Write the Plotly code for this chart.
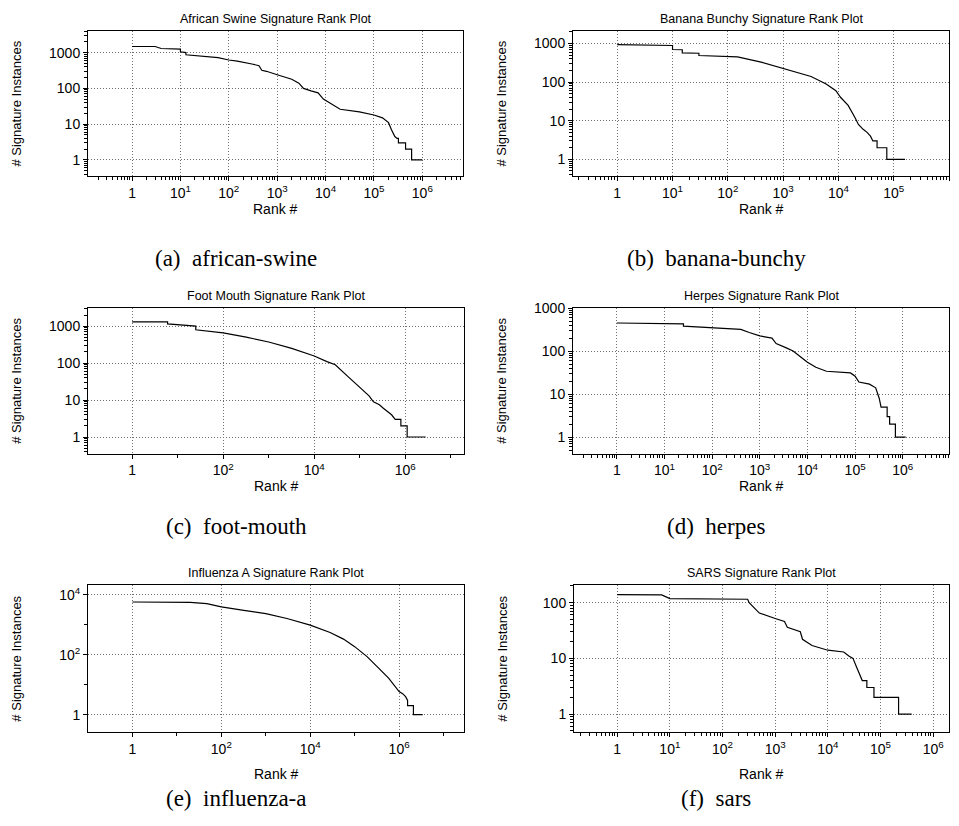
import plotly.graph_objects as go

# ---------------- data (rank, signature instances) ----------------
swine_rank = [1, 3, 4, 8, 10, 10, 13, 13, 30, 60, 100, 150, 300, 420, 480, 600, 1000, 2000, 2800,
              3500, 5000, 7000, 9000, 12000, 20000, 50000, 100000, 150000, 200000, 230000,
              270000, 300000, 320000, 320000, 450000, 450000, 600000, 600000, 1000000]
swine_count = [1480, 1480, 1300, 1250, 1250, 1050, 1000, 870, 800, 720, 620, 580, 480, 430, 320, 300,
               240, 180, 140, 100, 85, 75, 50, 40, 26, 22, 18, 15, 11, 7,
               4.5, 4, 4, 3, 3, 2, 2, 1, 1]

banana_rank = [1, 10, 10, 15, 15, 30, 30, 150, 400, 1000, 3200, 6000, 9000, 11000, 15000, 20000,
               23000, 28000, 33000, 38000, 42000, 42000, 50000, 50000, 75000, 75000, 160000]
banana_count = [940, 890, 700, 690, 570, 560, 490, 450, 330, 230, 140, 90, 60, 40, 25, 12,
                8, 6, 5, 4, 3.2, 3, 3, 2, 2, 1, 1]

foot_rank = [1, 6, 6, 20, 25, 25, 60, 100, 320, 1000, 3200, 10000, 19000, 29000, 53000, 100000,
             160000, 200000, 270000, 330000, 400000, 500000, 600000, 800000, 800000, 1100000,
             1100000, 2800000]
foot_count = [1310, 1300, 1150, 1050, 1000, 800, 720, 660, 506, 372, 251, 156, 110, 90, 45, 22,
              13, 9, 7.5, 6, 5, 4, 3, 3, 2, 2, 1, 1]

herpes_rank = [1, 20, 25, 25, 100, 400, 600, 1000, 1800, 2200, 3500, 5000, 7000, 10000, 15000,
               25000, 80000, 100000, 120000, 200000, 270000, 320000, 350000, 470000, 470000,
               530000, 530000, 700000, 700000, 1150000]
herpes_count = [450, 440, 430, 380, 350, 320, 270, 225, 200, 150, 120, 100, 75, 55, 42,
                34, 31, 26, 19, 17, 14, 8, 5, 5, 3, 3, 2, 2, 1, 1]

flu_rank = [1, 20, 47, 100, 320, 1000, 3000, 10000, 28000, 56000, 100000, 190000, 320000,
            580000, 1000000, 1200000, 1400000, 1550000, 1550000, 2100000, 2100000, 3400000]
flu_count = [5700, 5550, 5000, 3900, 3000, 2340, 1600, 960, 550, 330, 185, 86, 40,
             16.5, 5.9, 5, 4, 3, 2, 2, 1, 1]

sars_rank = [1, 7, 10, 300, 320, 400, 500, 1000, 1500, 1700, 2500, 3000, 3300, 5000, 10000,
             20000, 25000, 30000, 35000, 40000, 45000, 55000, 55000, 75000, 75000, 220000,
             220000, 390000]
sars_count = [139, 138, 118, 115, 100, 80, 65, 52, 46, 36, 32, 30, 22, 17, 14,
              13, 11, 10, 7, 5, 4, 4, 3, 3, 2, 2, 1, 1]

titles = ["African Swine Signature Rank Plot", "Banana Bunchy Signature Rank Plot",
          "Foot Mouth Signature Rank Plot", "Herpes Signature Rank Plot",
          "Influenza A Signature Rank Plot", "SARS Signature Rank Plot"]
captions = ["(a)  african-swine", "(b)  banana-bunchy", "(c)  foot-mouth",
            "(d)  herpes", "(e)  influenza-a", "(f)  sars"]

# tick decades: labelled / unlabelled-major
x_label_exp = [[0, 1, 2, 3, 4, 5, 6], [0, 1, 2, 3, 4, 5, 6], [0, 2, 4, 6],
               [0, 1, 2, 3, 4, 5, 6], [0, 2, 4, 6], [0, 1, 2, 3, 4, 5, 6]]
x_plain_exp = [[], [], [1, 3, 5, 7], [], [1, 3, 5, 7], []]
x_minor = [True, True, False, True, False, True]
y_label_exp = [[0, 1, 2, 3], [0, 1, 2, 3], [0, 1, 2, 3], [0, 1, 2, 3], [0, 2, 4], [0, 1, 2]]
y_plain_exp = [[], [], [], [], [1, 3], []]
y_minor = [True, True, True, True, False, True]
y_sup = [False, False, False, False, True, False]

series = [(swine_rank, swine_count), (banana_rank, banana_count), (foot_rank, foot_count),
          (herpes_rank, herpes_count), (flu_rank, flu_count), (sars_rank, sars_count)]

# ---------------- layout geometry (pixels) ----------------
W, H = 959, 826
boxes = [(88, 463, 23, 170), (573, 949, 23, 170),
         (88, 464, 303, 450), (573, 949, 303, 450),
         (88, 464, 583, 731), (574, 949, 583, 731)]
xranges = [[-0.91, 6.84], [-0.8, 6.0], [-0.97, 7.29], [-0.92, 6.97], [-1.0, 7.46], [-0.82, 6.3]]
yranges = [[-0.46, 3.61], [-0.44, 3.33], [-0.45, 3.49], [-0.385, 3.0], [-0.575, 4.31], [-0.32, 2.31]]
xtitle_off = [33, 33, 33, 33, 42, 42]
caption_y = [253, 253, 524, 524, 798, 798]

FONT = "Liberation Sans"


def sup_label(e):
    return "1" if e == 0 else "10<sup>%d</sup>" % e


def minor_vals(sub, plain):
    vals = []
    if sub:
        for k in range(-2, 9):
            for m in range(2, 10):
                vals.append(m * 10.0 ** k)
    for e in plain:
        vals.append(10.0 ** e)
    return vals


fig = go.Figure()
ann = []
for i in range(6):
    n = i + 1
    xs, ys = series[i]
    fig.add_trace(go.Scatter(x=xs, y=ys, mode="lines", line=dict(color="black", width=1.2),
                             xaxis="x%d" % n, yaxis="y%d" % n, showlegend=False))
    l, r, t, b = boxes[i]
    xd = [l / W, r / W]
    yd = [1 - b / H, 1 - t / H]
    xv = [10.0 ** e for e in x_label_exp[i]]
    xt = [sup_label(e) for e in x_label_exp[i]]
    yv = [10.0 ** e for e in y_label_exp[i]]
    if y_sup[i]:
        yt = [sup_label(e) for e in y_label_exp[i]]
    else:
        yt = [str(10 ** e) for e in y_label_exp[i]]
    common = dict(type="log", showline=True, linecolor="black", linewidth=1, mirror=True,
                  ticks="outside", ticklen=4, tickcolor="black", tickwidth=1,
                  showgrid=True, gridcolor="#707070", griddash="1px,2px", gridwidth=1,
                  zeroline=False, tickmode="array",
                  tickfont=dict(family=FONT, size=14, color="black"))
    xa = dict(common, domain=xd, range=xranges[i], tickvals=xv, ticktext=xt,
              anchor="y%d" % n,
              minor=dict(tickmode="array", tickvals=minor_vals(x_minor[i], x_plain_exp[i]),
                         ticks="outside", ticklen=3, tickcolor="black", showgrid=False))
    ya = dict(common, domain=yd, range=yranges[i], tickvals=yv, ticktext=yt,
              anchor="x%d" % n,
              minor=dict(tickmode="array", tickvals=minor_vals(y_minor[i], y_plain_exp[i]),
                         ticks="outside", ticklen=3, tickcolor="black", showgrid=False))
    fig.layout["xaxis%d" % n] = xa
    fig.layout["yaxis%d" % n] = ya
    cx = (l + r) / 2 / W
    ann.append(dict(text=titles[i], x=cx, y=1 - (t - 3) / H, xref="paper", yref="paper",
                    xanchor="center", yanchor="bottom", showarrow=False,
                    font=dict(family=FONT, size=12.5, color="black")))
    ann.append(dict(text="Rank #", x=cx, y=1 - (b + xtitle_off[i]) / H, xref="paper",
                    yref="paper", xanchor="center", yanchor="middle", showarrow=False,
                    font=dict(family=FONT, size=14, color="black")))
    ann.append(dict(text="# Signature Instances", x=(l - 71) / W, y=1 - (t + b) / 2 / H,
                    xref="paper", yref="paper", xanchor="center", yanchor="middle",
                    textangle=-90, showarrow=False,
                    font=dict(family=FONT, size=13, color="black")))
    ccx = 236 if i % 2 == 0 else 716
    ann.append(dict(text=captions[i], x=ccx / W, y=1 - caption_y[i] / H, xref="paper",
                    yref="paper", xanchor="center", yanchor="middle", showarrow=False,
                    font=dict(family="Liberation Serif", size=23, color="black")))

fig.update_layout(width=W, height=H, margin=dict(l=0, r=0, t=0, b=0),
                  paper_bgcolor="white", plot_bgcolor="white", annotations=ann)
fig.write_html("out.html")
